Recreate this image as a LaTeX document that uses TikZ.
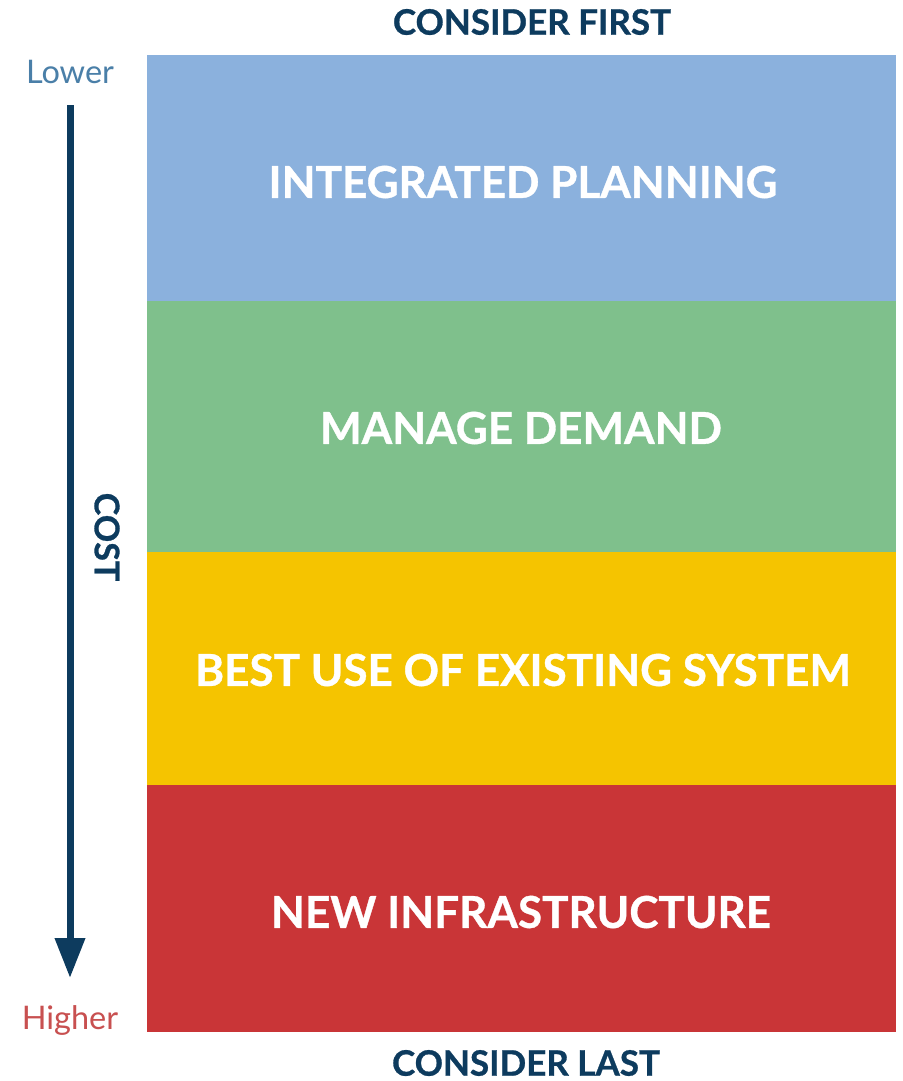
\documentclass[tikz,border=0pt]{standalone}
\usepackage{fontspec}
\setmainfont{Lato}
\newfontfamily\heavyfont[BoldFeatures={FakeBold=0.8}]{Lato}
\usetikzlibrary{arrows.meta}
\definecolor{bandblue}{HTML}{8BB1DD}
\definecolor{bandgreen}{HTML}{7FC08C}
\definecolor{bandyellow}{HTML}{F5C400}
\definecolor{bandred}{HTML}{C93537}
\definecolor{navy}{HTML}{0D3B5E}
\definecolor{lowblue}{HTML}{4A7FA8}
\definecolor{highred}{HTML}{C85050}
\tikzset{
  band/.style={fill=#1, draw=none},
  bandtext/.style={text=white, font=\fontsize{44}{50}\heavyfont\bfseries},
  header/.style={text=navy, font=\fontsize{35}{40}\heavyfont\bfseries},
  endlabel/.style={text=#1, font=\fontsize{32.5}{38}\selectfont},
}
\begin{document}
\begin{tikzpicture}[x=1pt,y=-1pt]
\useasboundingbox (0,0) rectangle (902,1081);
\fill[white] (0,0) rectangle (902,1081);
\fill[band=bandblue] (147,55) rectangle (896,301);
\fill[band=bandgreen] (147,301) rectangle (896,552);
\fill[band=bandyellow] (147,552) rectangle (896,785);
\fill[band=bandred] (147,785) rectangle (896,1032);
\node[bandtext] (ip) at (523,182) {INTEGRATED PLANNING};
\node[bandtext] (md) at (521,428) {MANAGE DEMAND};
\node[bandtext] (bu) at (523,670) {BEST USE OF EXISTING SYSTEM};
\node[bandtext] (ni) at (521,912) {NEW INFRASTRUCTURE};
\node[header] (cf) at (532,22) {CONSIDER FIRST};
\node[header] (cl) at (526,1063) {CONSIDER LAST};
\node[endlabel=lowblue] (lo) at (70,72) {Lower};
\node[endlabel=highred] (hi) at (70,1020) {Higher};
\node[header, font=\fontsize{34}{40}\heavyfont\bfseries, rotate=-90] (cost) at (107,537) {COST};
\coordinate (atop) at (70,105);
\coordinate (abot) at (70,978);
\draw[navy, line width=7pt, -{Triangle[width=29pt,length=40pt]}] (atop) -- (abot);
\end{tikzpicture}
\end{document}
